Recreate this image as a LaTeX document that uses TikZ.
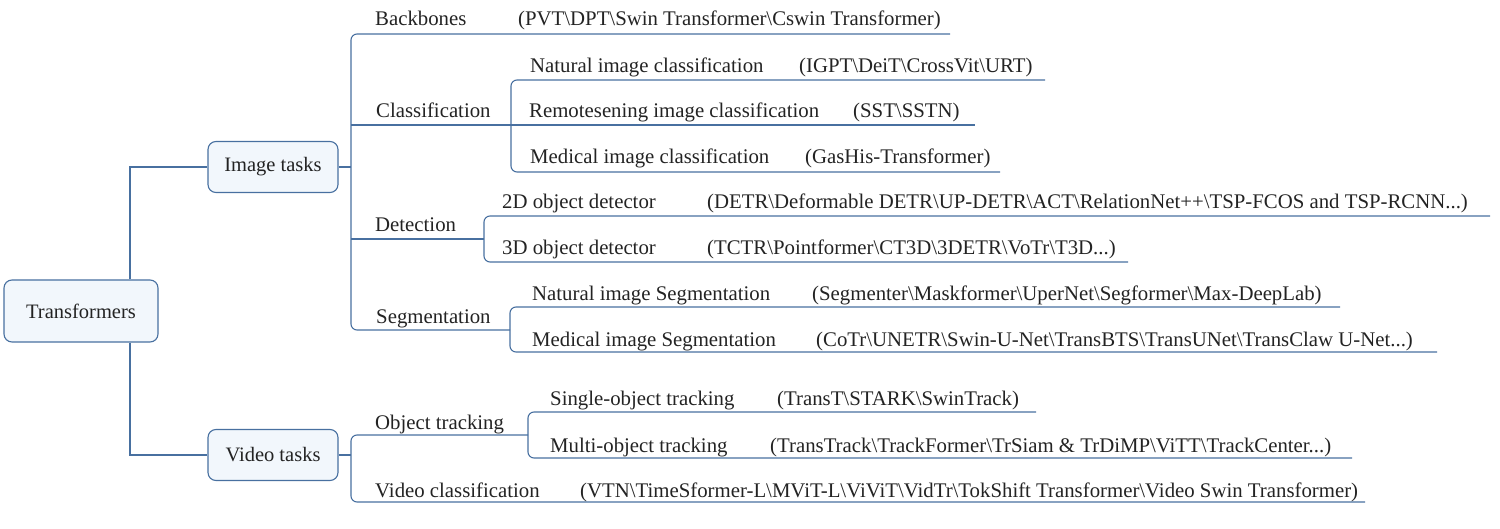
\documentclass[tikz,border=0pt]{standalone}
\usepackage{fontspec}
\setmainfont{Liberation Serif}
\newfontfamily\myserif{Liberation Serif}
\begin{document}
\begin{tikzpicture}[x=1pt,y=-1pt,
  ln/.style={draw=lineblue,line width=1.1pt,rounded corners=6pt},
  box/.style={draw=lineblue,line width=1.1pt,fill=boxfill,rounded corners=8pt,minimum height=51pt,font=\myserif\fontsize{20.5}{22}\selectfont,text=txt},
  lbl/.style={anchor=base west,inner sep=0pt,font=\myserif\fontsize{20.8}{22}\selectfont,text=txt}]
\definecolor{lineblue}{RGB}{72,112,160}
\definecolor{boxfill}{RGB}{242,247,252}
\definecolor{txt}{RGB}{35,35,35}
\useasboundingbox (0,0) rectangle (1500,529);
% boxes
\node[box,minimum width=154pt,minimum height=62pt] (tr) at (81,311) {Transformers};
\node[box,minimum width=130pt] (img) at (273,167) {Image tasks};
\node[box,minimum width=130pt] (vid) at (273,455) {Video tasks};
\draw[ln,rounded corners=0pt] (tr.north -| 130,0) -- (130,167) -- (img.west);
\draw[ln,rounded corners=0pt] (tr.south -| 130,0) -- (130,455) -- (vid.west);
% image bracket
\draw[ln] (950,34) -- (351,34) -- (351,330) -- (510,330);
\draw[ln] (351,125) -- (511,125);
\draw[ln] (351,239) -- (484,239);
\draw[ln,rounded corners=0pt] (img.east) -- (351,167);
% classification
\draw[ln] (1045,80) -- (511,80) -- (511,172) -- (1000,172);
\draw[ln] (511,125) -- (975,125);
% detection
\draw[ln] (1490,216) -- (484,216) -- (484,262) -- (1128,262);
% segmentation
\draw[ln] (1340,307) -- (510,307) -- (510,352) -- (1437,352);
% video bracket
\draw[ln] (1365,502) -- (351,502) -- (351,435) -- (528,435);
\draw[ln,rounded corners=0pt] (vid.east) -- (351,455);
\draw[ln] (1036,412) -- (528,412) -- (528,458) -- (1352,458);
% labels
\node[lbl] (bb) at (375,26) {Backbones};
\node[lbl] (bbr) at (518,26) {(PVT\textbackslash DPT\textbackslash Swin Transformer\textbackslash Cswin Transformer)};
\node[lbl] (cl) at (376,118) {Classification};
\node[lbl] (nc) at (530,73) {Natural image classification};
\node[lbl] (ncr) at (799,73) {(IGPT\textbackslash DeiT\textbackslash CrossVit\textbackslash URT)};
\node[lbl] (rc) at (529,118) {Remotesening image classification};
\node[lbl] (rcr) at (853,118) {(SST\textbackslash SSTN)};
\node[lbl] (mc) at (530,164) {Medical image classification};
\node[lbl] (mcr) at (805,164) {(GasHis-Transformer)};
\node[lbl] (de) at (375,232) {Detection};
\node[lbl] (d2) at (502,209) {2D object detector};
\node[lbl] (d2r) at (707,209) {(DETR\textbackslash Deformable DETR\textbackslash UP-DETR\textbackslash ACT\textbackslash RelationNet++\textbackslash TSP-FCOS and TSP-RCNN...)};
\node[lbl] (d3) at (502,255) {3D object detector};
\node[lbl] (d3r) at (707,255) {(TCTR\textbackslash Pointformer\textbackslash CT3D\textbackslash 3DETR\textbackslash VoTr\textbackslash T3D...)};
\node[lbl] (se) at (376,324) {Segmentation};
\node[lbl] (ns) at (532,301) {Natural image Segmentation};
\node[lbl] (nsr) at (812,301) {(Segmenter\textbackslash Maskformer\textbackslash UperNet\textbackslash Segformer\textbackslash Max-DeepLab)};
\node[lbl] (ms) at (532,347) {Medical image Segmentation};
\node[lbl] (msr) at (816,347) {(CoTr\textbackslash UNETR\textbackslash Swin-U-Net\textbackslash TransBTS\textbackslash TransUNet\textbackslash TransClaw U-Net...)};
\node[lbl] (ot) at (375,429) {Object tracking};
\node[lbl] (so) at (550,406) {Single-object tracking};
\node[lbl] (sor) at (777,406) {(TransT\textbackslash STARK\textbackslash SwinTrack)};
\node[lbl] (mo) at (550,452) {Multi-object tracking};
\node[lbl] (mor) at (770,452) {(TransTrack\textbackslash TrackFormer\textbackslash TrSiam \& TrDiMP\textbackslash ViTT\textbackslash TrackCenter...)};
\node[lbl] (vc) at (375,497) {Video classification};
\node[lbl] (vcr) at (580,497) {(VTN\textbackslash TimeSformer-L\textbackslash MViT-L\textbackslash ViViT\textbackslash VidTr\textbackslash TokShift Transformer\textbackslash Video Swin Transformer)};
\end{tikzpicture}
\end{document}
